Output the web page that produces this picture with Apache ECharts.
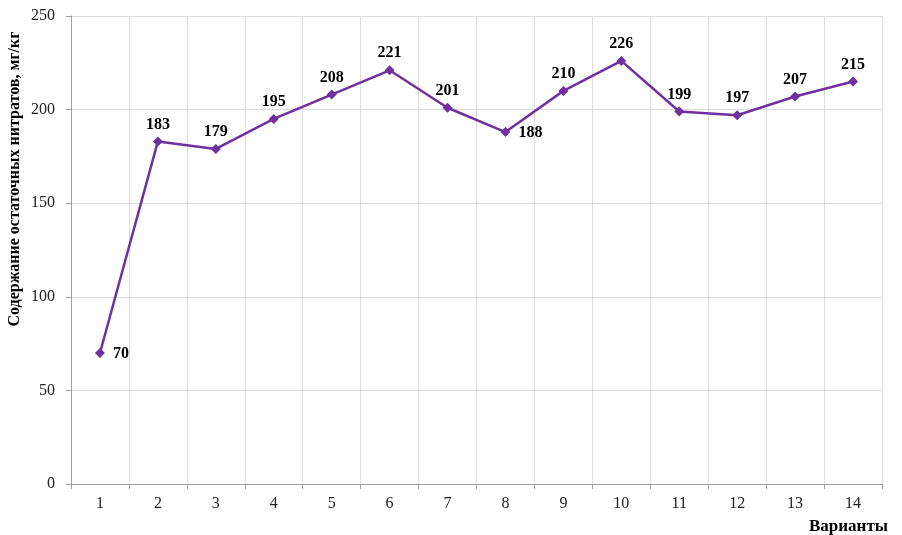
<!DOCTYPE html>
<html>
<head>
<meta charset="utf-8">
<script src="https://cdn.jsdelivr.net/npm/echarts@6/dist/echarts.min.js"></script>
<style>
html,body{margin:0;padding:0;background:#fff;}
#chart{width:902px;height:535px;}
</style>
</head>
<body>
<div id="chart"></div>
<script>
// варианты опыта
var variants = ['1','2','3','4','5','6','7','8','9','10','11','12','13','14'];
// содержание нитратов, мг/кг
var nitrates = [70,183,179,195,208,221,201,188,210,226,199,197,207,215];
// какие подписи ставить справа от точки
var rightLabels = [0, 7];

var serif = '"Liberation Serif","Times New Roman",serif';

var points = [];
for (var i = 0; i < nitrates.length; i++) {
    var p = {value: nitrates[i]};
    if (rightLabels.indexOf(i) !== -1) {
        p.label = {position: 'right', distance: 8, offset: [0, 1]};
    }
    points.push(p);
}

var chart = echarts.init(document.getElementById('chart'));
chart.setOption({
    animation: false,
    grid: {left: 71, right: 20, top: 16, bottom: 51, outerBoundsMode: 'none'},
    xAxis: {
        type: 'category',
        data: variants,
        boundaryGap: true,
        name: 'Варианты',
        nameLocation: 'end',
        nameGap: 6,
        nameMoveOverlap: false,
        nameTextStyle: {
            fontFamily: serif, fontWeight: 'bold', fontSize: 17, color: '#000',
            align: 'right', verticalAlign: 'top', padding: [34, 0, 0, 0]
        },
        axisLine: {lineStyle: {color: '#a0a0a0', width: 1}},
        axisTick: {show: true, length: 5, lineStyle: {color: '#a0a0a0'}},
        axisLabel: {fontFamily: serif, fontSize: 16, color: '#222', margin: 12},
        splitLine: {show: true, lineStyle: {color: '#dcdcdc'}}
    },
    yAxis: {
        type: 'value',
        min: 0, max: 250, interval: 50,
        name: 'Содержание остаточных нитратов, мг/кг',
        nameLocation: 'middle',
        nameGap: 48,
        nameMoveOverlap: false,
        nameTextStyle: {
            fontFamily: serif, fontWeight: 'bold', fontSize: 16, color: '#000',
            padding: [0, 0, 0, 142]
        },
        axisLine: {show: true, lineStyle: {color: '#a0a0a0', width: 1}},
        axisTick: {show: true, length: 5, lineStyle: {color: '#a0a0a0'}},
        axisLabel: {fontFamily: serif, fontSize: 16, color: '#222', margin: 16},
        splitLine: {show: true, lineStyle: {color: '#dcdcdc'}}
    },
    series: [{
        type: 'line',
        data: points,
        symbol: 'diamond',
        symbolSize: 10,
        lineStyle: {color: '#7030a0', width: 2.5},
        itemStyle: {color: '#7030a0'},
        label: {
            show: true, position: 'top', distance: 4,
            fontFamily: serif, fontWeight: 'bold', fontSize: 16, color: '#000'
        }
    }]
});
</script>
</body>
</html>
